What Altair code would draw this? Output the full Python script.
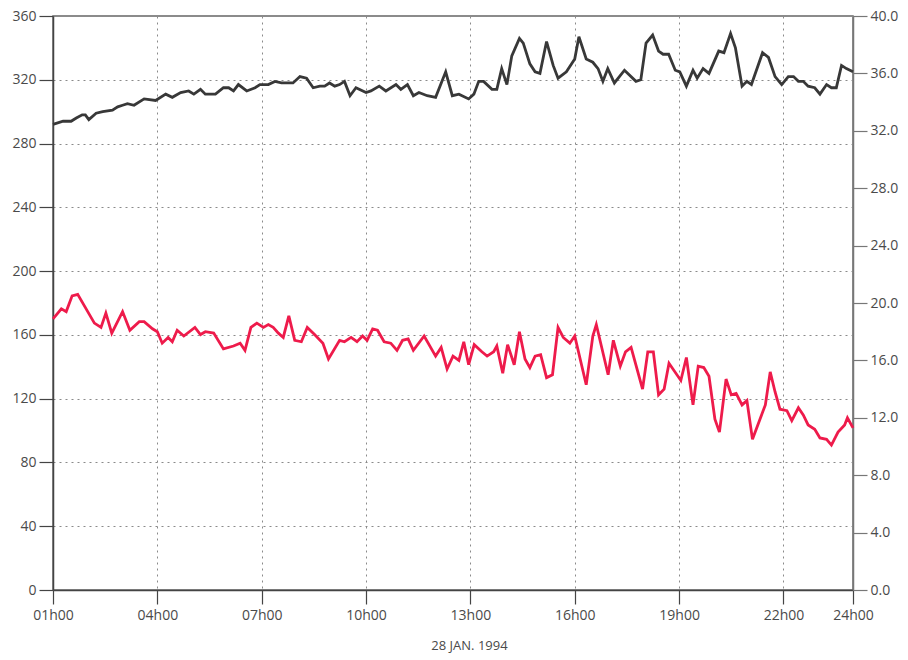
import altair as alt
import pandas as pd

# x in hours of the day (01h00 .. 24h00)
x_ticks = [1, 4, 7, 10, 13, 16, 19, 22, 24]
left_ticks = [0, 40, 80, 120, 160, 200, 240, 280, 320, 360]
right_ticks = [0, 4, 8, 12, 16, 20, 24, 28, 32, 36, 40]
date_label = "28 JAN. 1994"

# dark series (left axis, 0-360)
black_t = [1.0, 1.29, 1.52, 1.67, 1.84, 1.93, 2.03, 2.24, 2.43, 2.71,
           2.86, 3.0, 3.14, 3.33, 3.62, 3.95, 4.24, 4.43, 4.67, 4.9,
           5.05, 5.24, 5.38, 5.67, 5.9, 6.05, 6.19, 6.33, 6.57, 6.81,
           6.95, 7.19, 7.38, 7.57, 7.9, 8.1, 8.29, 8.48, 8.67, 8.81,
           8.95, 9.1, 9.24, 9.38, 9.54, 9.71, 10.0, 10.14, 10.38, 10.57,
           10.86, 11.0, 11.19, 11.36, 11.52, 11.76, 12.0, 12.29, 12.48, 12.67,
           12.95, 13.1, 13.24, 13.38, 13.62, 13.76, 13.9, 14.05, 14.19, 14.41,
           14.52, 14.71, 14.86, 15.0, 15.19, 15.38, 15.52, 15.76, 16.0, 16.12,
           16.33, 16.52, 16.67, 16.81, 16.95, 17.14, 17.43, 17.76, 17.9, 18.05,
           18.24, 18.41, 18.54, 18.7, 18.89, 19.02, 19.21, 19.4, 19.52, 19.69,
           19.86, 20.14, 20.29, 20.48, 20.62, 20.81, 20.95, 21.08, 21.4, 21.57,
           21.76, 21.95, 22.14, 22.29, 22.43, 22.57, 22.71, 22.9, 23.05, 23.24,
           23.38, 23.52, 23.67, 23.81, 24.0]
black_v = [292, 294, 294, 296, 298, 298, 295, 299, 300, 301,
           303, 304, 305, 304, 308, 307, 311, 309, 312, 313,
           311, 314, 311, 311, 315, 315, 313, 317, 313, 315,
           317, 317, 319, 318, 318, 322, 321, 315, 316, 316,
           318, 316, 317, 319, 310, 315, 312, 313, 316, 313,
           317, 314, 317, 310, 312, 310, 309, 325, 310, 311,
           308, 311, 319, 319, 314, 314, 327, 317, 335, 346,
           343, 330, 325, 324, 344, 329, 321, 325, 333, 347,
           333, 331, 327, 319, 327, 318, 326, 319, 320, 343,
           348, 338, 336, 336, 326, 325, 316, 326, 321, 327,
           324, 338, 337, 349, 340, 316, 319, 317, 337, 334,
           322, 317, 322, 322, 319, 319, 316, 315, 311, 317,
           315, 315, 329, 327, 325]

# red series (right axis, 0-40)
red_t = [1.0, 1.24, 1.38, 1.55, 1.71, 2.19, 2.38, 2.52, 2.69, 3.0,
         3.21, 3.48, 3.62, 3.86, 4.0, 4.14, 4.31, 4.43, 4.57, 4.76,
         5.08, 5.24, 5.38, 5.62, 5.9, 6.19, 6.38, 6.52, 6.69, 6.86,
         7.05, 7.19, 7.33, 7.48, 7.62, 7.78, 7.95, 8.14, 8.31, 8.52,
         8.76, 8.92, 9.24,
         9.38, 9.57, 9.74, 9.9, 10.03, 10.19, 10.33, 10.52, 10.71, 10.89,
         11.05, 11.21, 11.36, 11.67, 12.0, 12.16, 12.33, 12.5, 12.67, 12.81,
         12.95, 13.11, 13.33, 13.48, 13.67, 13.76, 13.93, 14.07, 14.26, 14.41,
         14.57, 14.71, 14.86, 15.02, 15.19, 15.36, 15.52, 15.67, 15.86, 16.0,
         16.33, 16.52, 16.62,
         16.96, 17.11, 17.31, 17.46, 17.62, 17.95, 18.1, 18.26, 18.41, 18.57,
         18.71, 19.05, 19.21, 19.4, 19.55, 19.71, 19.86, 20.03, 20.16, 20.35,
         20.5, 20.64, 20.81, 20.95, 21.11, 21.48, 21.62, 21.76, 21.9, 22.1,
         22.24, 22.43, 22.57, 22.71, 22.9, 23.05, 23.24, 23.38, 23.57, 23.76,
         23.84, 24.0]
red_v = [18.9, 19.6, 19.4, 20.5, 20.6, 18.6, 18.3, 19.3, 17.9, 19.4,
         18.1, 18.7, 18.7, 18.2, 18.0, 17.2, 17.6, 17.3, 18.1, 17.7,
         18.3, 17.8, 18.0, 17.9, 16.8, 17.0, 17.2, 16.7, 18.3, 18.6,
         18.3, 18.5, 18.3, 17.9, 17.6, 19.1, 17.4, 17.3, 18.3, 17.8,
         17.2, 16.1, 17.4,
         17.3, 17.6, 17.3, 17.7, 17.4, 18.2, 18.1, 17.3, 17.2, 16.7,
         17.4, 17.5, 16.7, 17.7, 16.3, 16.9, 15.4, 16.3, 16.0, 17.3,
         15.7, 17.1, 16.6, 16.3, 16.6, 17.0, 15.1, 17.1, 15.7, 18.0,
         16.1, 15.5, 16.3, 16.4, 14.8, 15.0, 18.3, 17.6, 17.2, 17.7,
         14.3, 17.7, 18.5,
         15.0, 17.4, 15.6, 16.6, 16.9, 14.0, 16.6, 16.6, 13.6, 14.0,
         15.8, 14.6, 16.2, 12.9, 15.6, 15.5, 14.9, 11.9, 11.0, 14.7,
         13.6, 13.7, 12.9, 13.2, 10.5, 12.9, 15.2, 13.8, 12.6, 12.5,
         11.8, 12.7, 12.2, 11.5, 11.2, 10.6, 10.5, 10.1, 11.0, 11.5,
         12.0, 11.3]

df_black = pd.DataFrame({"hour": black_t, "value": black_v})
df_red = pd.DataFrame({"hour": red_t, "value": red_v})

FONT = "Open Sans"
TXT = "#4a4a4a"
AXC = "#444444"

x_enc = alt.X(
    "hour:Q",
    scale=alt.Scale(domain=[1, 24], nice=False, zero=False),
    axis=alt.Axis(
        values=x_ticks,
        labelExpr="(datum.value < 10 ? '0' : '') + datum.value + 'h00'",
        title=date_label,
        titleFont=FONT, titleFontSize=13, titleFontWeight="normal", titleColor=TXT,
        titleX=416, titleY=55, titleAlign="center", titleBaseline="middle",
        labelFont=FONT, labelFontSize=14, labelColor=TXT, labelPadding=4,
        labelOverlap=False, labelFlush=False,
        tickSize=14, tickColor=AXC, tickWidth=1.2,
        domainColor=AXC, domainWidth=1.5,
        grid=True, gridDash=[2, 4], gridColor="#8a8a8a", gridWidth=1,
    ),
)

black = alt.Chart(df_black).mark_line(color="#383838", strokeWidth=2.8).encode(
    x=x_enc,
    y=alt.Y(
        "value:Q",
        scale=alt.Scale(domain=[0, 360], nice=False),
        axis=alt.Axis(
            orient="left", values=left_ticks, title=None,
            labelFont=FONT, labelFontSize=14, labelColor=TXT, labelPadding=3,
            tickSize=14, tickColor=AXC, tickWidth=1.2,
            domainColor=AXC, domainWidth=1.5,
            grid=True, gridDash=[2, 4], gridColor="#8a8a8a", gridWidth=1,
        ),
    ),
)

red = alt.Chart(df_red).mark_line(color="#ee1b4b", strokeWidth=2.8).encode(
    x=x_enc,
    y=alt.Y(
        "value:Q",
        scale=alt.Scale(domain=[0, 40], nice=False),
        axis=alt.Axis(
            orient="right", values=right_ticks, format=".1f", title=None,
            labelFont=FONT, labelFontSize=14, labelColor=TXT, labelPadding=3,
            tickSize=14, tickColor="#777", tickWidth=1.2,
            domainColor="#777", domainWidth=1.5,
            grid=False,
        ),
    ),
)

chart = (
    alt.layer(black, red)
    .resolve_scale(y="independent")
    .properties(
        width=800,
        height=574,
        autosize=alt.AutoSizeParams(type="none"),
        padding={"left": 53, "top": 16, "right": 55, "bottom": 70},
        background="white",
    )
    .configure_view(stroke="#666666", strokeWidth=1.5)
)

chart.save("out.html", embed_options={"renderer": "svg", "actions": False})
